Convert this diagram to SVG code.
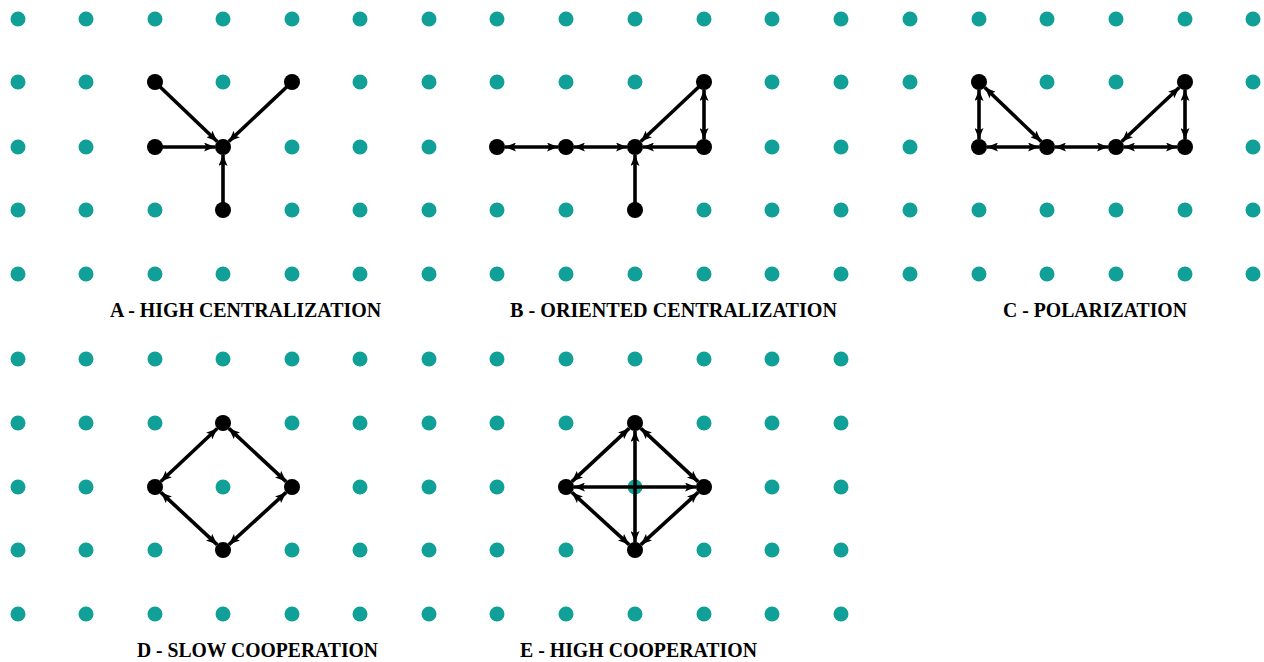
<svg xmlns="http://www.w3.org/2000/svg" width="1264" height="662" viewBox="0 0 1264 662">
<style>
.g{fill:#11a097}
.n{fill:#000}
.e{stroke:#000;stroke-width:3.6;fill:none}
.u{marker-end:url(#ah)}
.b{marker-start:url(#ah);marker-end:url(#ah)}
.t{font-family:"Liberation Serif","Times New Roman",serif;font-weight:bold;font-size:20px;text-anchor:middle;fill:#000}
</style>
<defs>
<marker id="ah" markerUnits="userSpaceOnUse" markerWidth="11" markerHeight="9" refX="11" refY="4.5" orient="auto-start-reverse" viewBox="0 0 11 9">
<path d="M0,0 L11,4.5 L0,9 L2.5,4.5 z" fill="#000"/>
</marker>
<circle id="d" r="7.5" class="g"/>
<circle id="k" r="8" class="n"/>
</defs>
<rect width="1264" height="662" fill="#fff"/>
<g id="grid-top">
<g id="r0"><use href="#d" x="18" y="19"/><use href="#d" x="86" y="19"/><use href="#d" x="155" y="19"/><use href="#d" x="223" y="19"/><use href="#d" x="292" y="19"/><use href="#d" x="360" y="19"/><use href="#d" x="429" y="19"/><use href="#d" x="497" y="19"/><use href="#d" x="566" y="19"/><use href="#d" x="635" y="19"/><use href="#d" x="704" y="19"/><use href="#d" x="772" y="19"/><use href="#d" x="841" y="19"/><use href="#d" x="910" y="19"/><use href="#d" x="979" y="19"/><use href="#d" x="1047" y="19"/><use href="#d" x="1116" y="19"/><use href="#d" x="1185" y="19"/><use href="#d" x="1253" y="19"/></g>
<use href="#r0" y="63"/>
<use href="#r0" y="128"/>
<use href="#r0" y="191"/>
<use href="#r0" y="255"/>
</g>
<g id="grid-bottom">
<g id="b0"><use href="#d" x="18" y="359"/><use href="#d" x="86" y="359"/><use href="#d" x="155" y="359"/><use href="#d" x="223" y="359"/><use href="#d" x="292" y="359"/><use href="#d" x="360" y="359"/><use href="#d" x="429" y="359"/><use href="#d" x="497" y="359"/><use href="#d" x="566" y="359"/><use href="#d" x="635" y="359"/><use href="#d" x="704" y="359"/><use href="#d" x="772" y="359"/><use href="#d" x="841" y="359"/></g>
<use href="#b0" y="64"/>
<use href="#b0" y="128"/>
<use href="#b0" y="191"/>
<use href="#b0" y="255"/>
</g>
<g id="connectors">
<line class="e u" x1="155" y1="82" x2="217.2" y2="141.5"/>
<line class="e u" x1="292" y1="82" x2="228.8" y2="141.5"/>
<line class="e u" x1="155" y1="147" x2="215" y2="147"/>
<line class="e u" x1="223" y1="210" x2="223" y2="155"/>
<line class="e b" x1="505" y1="147" x2="558" y2="147"/>
<line class="e b" x1="574" y1="147" x2="627" y2="147"/>
<line class="e u" x1="704" y1="147" x2="643" y2="147"/>
<line class="e u" x1="704" y1="82" x2="640.8" y2="141.5"/>
<line class="e b" x1="704" y1="90" x2="704" y2="139"/>
<line class="e u" x1="635" y1="210" x2="635" y2="155"/>
<line class="e b" x1="979" y1="90" x2="979" y2="139"/>
<line class="e b" x1="984.8" y1="87.5" x2="1041.2" y2="141.5"/>
<line class="e b" x1="987" y1="147" x2="1039" y2="147"/>
<line class="e b" x1="1055" y1="147" x2="1108" y2="147"/>
<line class="e b" x1="1121.8" y1="141.5" x2="1179.2" y2="87.5"/>
<line class="e b" x1="1124" y1="147" x2="1177" y2="147"/>
<line class="e b" x1="1185" y1="90" x2="1185" y2="139"/>
<line class="e b" x1="160.8" y1="481.5" x2="217.2" y2="428.5"/>
<line class="e b" x1="228.9" y1="428.4" x2="286.1" y2="481.6"/>
<line class="e b" x1="160.9" y1="492.4" x2="217.1" y2="544.6"/>
<line class="e b" x1="228.9" y1="544.6" x2="286.1" y2="492.4"/>
<line class="e b" x1="571.9" y1="481.6" x2="629.1" y2="428.4"/>
<line class="e b" x1="640.9" y1="428.4" x2="698.1" y2="481.6"/>
<line class="e b" x1="571.9" y1="492.4" x2="629.1" y2="544.6"/>
<line class="e b" x1="640.9" y1="544.6" x2="698.1" y2="492.4"/>
<line class="e b" x1="574" y1="487" x2="696" y2="487"/>
<line class="e b" x1="635" y1="431" x2="635" y2="542"/>
</g>
<g id="net-a">
<use href="#k" x="155" y="82"/><use href="#k" x="292" y="82"/><use href="#k" x="155" y="147"/><use href="#k" x="223" y="147"/><use href="#k" x="223" y="210"/>
<text class="t" x="245.5" y="317" textLength="271" lengthAdjust="spacingAndGlyphs">A - HIGH CENTRALIZATION</text>
</g>
<g id="net-b">
<use href="#k" x="497" y="147"/><use href="#k" x="566" y="147"/><use href="#k" x="635" y="147"/><use href="#k" x="704" y="82"/><use href="#k" x="704" y="147"/><use href="#k" x="635" y="210"/>
<text class="t" x="673.5" y="317" textLength="327" lengthAdjust="spacingAndGlyphs">B - ORIENTED CENTRALIZATION</text>
</g>
<g id="net-c">
<use href="#k" x="979" y="82"/><use href="#k" x="979" y="147"/><use href="#k" x="1047" y="147"/><use href="#k" x="1116" y="147"/><use href="#k" x="1185" y="82"/><use href="#k" x="1185" y="147"/>
<text class="t" x="1095" y="317" textLength="184" lengthAdjust="spacingAndGlyphs">C - POLARIZATION</text>
</g>
<g id="net-d">
<use href="#k" x="223" y="423"/><use href="#k" x="155" y="487"/><use href="#k" x="292" y="487"/><use href="#k" x="223" y="550"/>
<text class="t" x="257.5" y="657" textLength="241" lengthAdjust="spacingAndGlyphs">D - SLOW COOPERATION</text>
</g>
<g id="net-e">
<use href="#k" x="635" y="423"/><use href="#k" x="566" y="487"/><use href="#k" x="704" y="487"/><use href="#k" x="635" y="550"/>
<text class="t" x="638.5" y="657" textLength="237" lengthAdjust="spacingAndGlyphs">E - HIGH COOPERATION</text>
</g>
</svg>
